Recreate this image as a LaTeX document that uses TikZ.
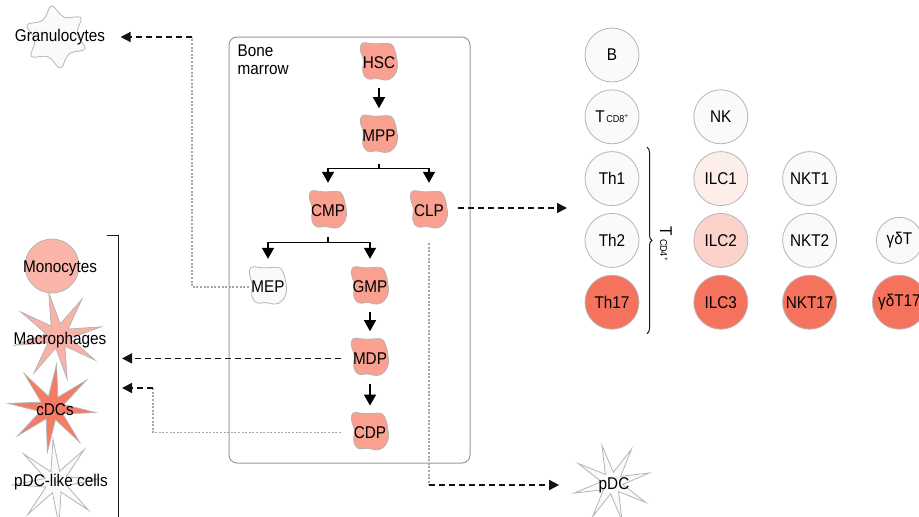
\documentclass[tikz,border=0pt]{standalone}
\usepackage{fontspec}
\setmainfont{Liberation Sans}[FakeStretch=0.9]
\usetikzlibrary{shapes.geometric, arrows.meta, positioning, backgrounds,
                decorations.pathreplacing, calc}
\definecolor{progenred}{HTML}{F9A091}
\definecolor{monofill}{HTML}{FBB4A8}
\definecolor{macfill}{HTML}{F9B3A6}
\definecolor{cdcfill}{HTML}{F47C64}
\definecolor{hotred}{HTML}{F5735D}
\definecolor{palered}{HTML}{FCD3CB}
\definecolor{faintred}{HTML}{FEEEEA}
\definecolor{cellwhite}{HTML}{FAFAFA}
\definecolor{cellline}{HTML}{B5B5B5}

% irregular progenitor outline around a node centre
\newcommand{\cellblob}[2]{%
  \fill[fill=#2, draw=cellline, line width=0.8pt, rounded corners=4pt, shift={(#1)}]
    (-18,-21) -- (-5,-19) -- (13,-20) -- (17,-10) -- (19,5) -- (15,14) -- (7,18)
    -- (-2,15) -- (-12,17) -- (-17,9) -- (-15,-3) -- (-19,-12) -- cycle;}

\begin{document}
\begin{tikzpicture}[x=1pt, y=-1pt, font=\fontsize{17}{18}\selectfont,
  progen/.style={minimum width=38pt, minimum height=40pt, inner sep=0pt},
  cell/.style={circle, draw=cellline, line width=0.8pt, fill=cellwhite, minimum size=54pt, inner sep=0pt},
  spiky/.style={star, draw=cellline, line width=0.8pt, inner sep=0pt},
  marrowbox/.style={draw=gray!80, line width=1pt, rounded corners=8pt, minimum width=241pt, minimum height=426pt},
  arr/.style={-{Triangle[length=11pt, width=12pt]}, line width=1.3pt},
  fork/.style={line width=1.3pt},
  dasharr/.style={-{Triangle[length=10pt, width=10pt]}, line width=1.6pt, gray!15!black, dash pattern=on 6pt off 4pt},
  dotline/.style={gray!70, line width=1.1pt, dash pattern=on 2pt off 1.6pt},
  bracket/.style={gray!20!black, line width=1pt}]

  \useasboundingbox (0,0) rectangle (919,517);

  % bone marrow compartment
  \node [marrowbox] (bm) at (349.5,250) {};
  \node [anchor=north west, align=left, inner sep=0pt] (bmlabel) at ([xshift=9pt, yshift=-8pt]bm.north west) {Bone\\marrow};

  % progenitors
  \node [progen] (hsc) at (379,63) {HSC};
  \node [progen, below=32pt of hsc] (mpp) {MPP};
  \node [progen] (cmp) at (328,211) {CMP};
  \node [progen] (clp) at (429,211) {CLP};
  \node [progen] (mep) at (268,287) {MEP};
  \node [progen] (gmp) at (370,287) {GMP};
  \node [progen, below=31pt of gmp] (mdp) {MDP};
  \node [progen, below=34pt of mdp] (cdp) {CDP};

  \begin{scope}[on background layer]
    \cellblob{hsc}{progenred}
    \cellblob{mpp}{progenred}
    \cellblob{cmp}{progenred}
    \cellblob{clp}{progenred}
    \cellblob{mep}{cellwhite}
    \cellblob{gmp}{progenred}
    \cellblob{mdp}{progenred}
    \cellblob{cdp}{progenred}
  \end{scope}

  \draw[arr, shorten <=5pt, shorten >=7pt] (hsc) -- (mpp);
  \coordinate (mppfork) at ($(mpp.south)+(0,13)$);
  \draw[fork] ($(mpp.south)+(0,8)$) -- (mppfork);
  \draw[arr, shorten >=8pt] (mppfork) -| (cmp);
  \draw[arr, shorten >=8pt] (mppfork) -| (clp);
  \coordinate (cmpfork) at ($(cmp.south)+(0,11)$);
  \draw[fork] ($(cmp.south)+(0,6)$) -- (cmpfork);
  \draw[arr, shorten >=8pt] (cmpfork) -| (mep);
  \draw[arr, shorten >=8pt] (cmpfork) -| (gmp);
  \draw[arr, shorten <=5pt, shorten >=7pt] (gmp) -- (mdp);
  \draw[arr, shorten <=5pt, shorten >=7pt] (mdp) -- (cdp);

  % myeloid cells on the left
  \node [spiky, star points=6, star point ratio=1.7, minimum size=68pt, rounded corners=5pt, fill=cellwhite, rotate=8] (granshape) at (56,37) {};
  \node (gran) at (60,37) {Granulocytes};
  \node [cell, fill=monofill] (monoshape) at (52,266) {};
  \node (mono) at (60,268) {Monocytes};
  \node [spiky, star points=8, star point ratio=3.6, minimum size=88pt, fill=macfill, rotate=12] (macshape) at (58,336) {};
  \node (mac) at (60,340) {Macrophages};
  \node [spiky, star points=8, star point ratio=3.6, minimum size=88pt, fill=cdcfill, rotate=-6] (cdcshape) at (52,408) {};
  \node (cdc) at (55,410) {cDCs};
  \node [spiky, star points=8, star point ratio=3.8, minimum size=86pt, fill=cellwhite, rotate=4] (pdclikeshape) at (56,482) {};
  \node (pdclike) at (61,482) {pDC-like cells};

  \coordinate (brk) at (118,235);
  \draw[bracket] ([xshift=-11pt]brk) -- (brk) -- (brk |- 0,530);

  % lymphoid cells on the right
  \node [cell] (b) at (612,55) {B};
  \node [cell, below=7pt of b] (tcd8) {T{\fontsize{10}{10}\selectfont\,CD8\textsuperscript{+}}};
  \node [cell, below=7pt of tcd8] (th1) {Th1};
  \node [cell, below=7pt of th1] (th2) {Th2};
  \node [cell, below=7pt of th2, fill=hotred] (th17) {Th17};
  \node [cell, right=54pt of tcd8] (nk) {NK};
  \node [cell, below=7pt of nk, fill=faintred] (ilc1) {ILC1};
  \node [cell, below=7pt of ilc1, fill=palered] (ilc2) {ILC2};
  \node [cell, below=7pt of ilc2, fill=hotred] (ilc3) {ILC3};
  \node [cell, right=34pt of ilc1] (nkt1) {NKT1};
  \node [cell, below=7pt of nkt1] (nkt2) {NKT2};
  \node [cell, below=7pt of nkt2, fill=hotred] (nkt17) {NKT17};
  \node [cell, right=35pt of nkt17, fill=hotred] (gdt17) {γδT17};
  \node [cell, minimum size=46pt] (gdt) at (gdt17 |- nkt2) {γδT};

  \draw[bracket, decorate, decoration={brace, amplitude=5pt}]
    ([xshift=35pt, yshift=4pt]th1.north) -- ([xshift=35pt, yshift=-4pt]th17.south);
  \node [rotate=-90] (tcd4) at (666,244) {T\,{\fontsize{10}{10}\selectfont CD4\textsuperscript{+}}};

  \node [spiky, star points=8, star point ratio=3.6, minimum size=78pt, fill=cellwhite, rotate=15] (pdcshape) at (612,483) {};
  \node (pdc) at (614,485) {pDC};

  % routes out of the marrow
  \coordinate (granturn) at (192,37);
  \draw[dotline] (mep.west) -| (granturn);
  \draw[dasharr, shorten >=12pt] (granturn) -- (gran.east);
  \draw[dasharr, shorten <=10pt, shorten >=4pt] (mdp.west) -- (mdp.west -| brk);
  \coordinate (cdcturn) at (153,388);
  \draw[dotline, shorten <=10pt] (cdp.west) -| (cdcturn);
  \draw[dasharr, shorten >=4pt] (cdcturn) -- (cdcturn -| brk);
  \coordinate (lymph) at (567,208);
  \draw[dasharr, shorten <=10pt] (clp.east |- lymph) -- (lymph);
  \coordinate (pdcturn) at (clp |- pdc);
  \draw[dotline, shorten <=12pt] (clp.south) -- (pdcturn);
  \draw[dasharr, shorten >=36pt] (pdcturn) -- (pdc.west);
\end{tikzpicture}
\end{document}
